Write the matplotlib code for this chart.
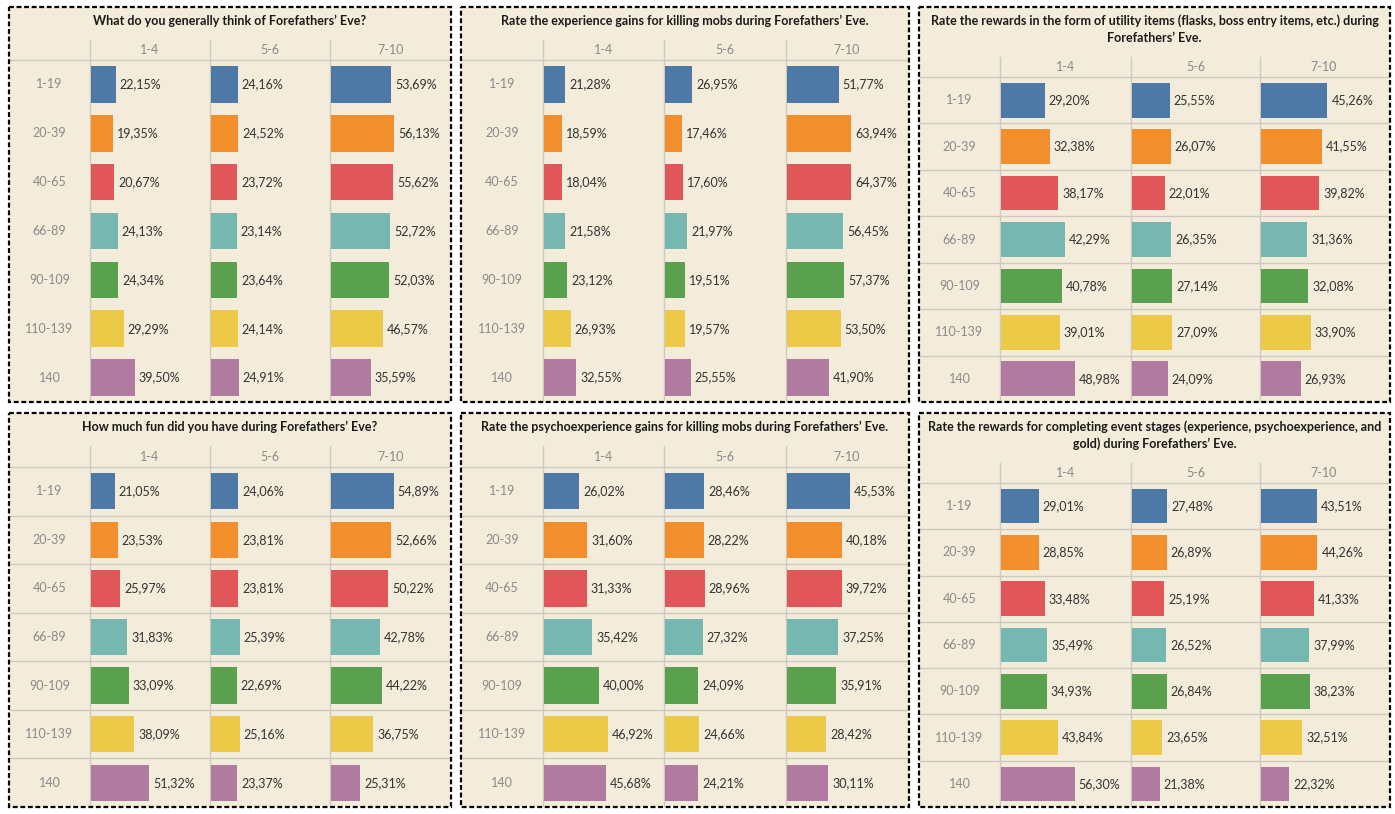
import matplotlib
matplotlib.use("Agg")
import matplotlib.pyplot as plt
from matplotlib.patches import Rectangle

W, H = 1395, 814
plt.rcParams['font.family'] = ['Lato', 'DejaVu Sans']

# ---------------- data ----------------
row_labels = ["1-19", "20-39", "40-65", "66-89", "90-109", "110-139", "140"]
col_labels = ["1-4", "5-6", "7-10"]
colors = ["#4E79A7", "#F28E2B", "#E15759", "#76B7B2", "#59A14F", "#EDC948", "#B07AA1"]

titles = [
    ["What do you generally think of Forefathers\u2019 Eve?"],
    ["Rate the experience gains for killing mobs during Forefathers\u2019 Eve."],
    ["Rate the rewards in the form of utility items (flasks, boss entry items, etc.) during",
     "Forefathers\u2019 Eve."],
    ["How much fun did you have during Forefathers\u2019 Eve?"],
    ["Rate the psychoexperience gains for killing mobs during Forefathers\u2019 Eve."],
    ["Rate the rewards for completing event stages (experience, psychoexperience, and",
     "gold) during Forefathers\u2019 Eve."],
]

p1_14 = [22.15, 19.35, 20.67, 24.13, 24.34, 29.29, 39.50]
p1_56 = [24.16, 24.52, 23.72, 23.14, 23.64, 24.14, 24.91]
p1_710 = [53.69, 56.13, 55.62, 52.72, 52.03, 46.57, 35.59]

p2_14 = [21.28, 18.59, 18.04, 21.58, 23.12, 26.93, 32.55]
p2_56 = [26.95, 17.46, 17.60, 21.97, 19.51, 19.57, 25.55]
p2_710 = [51.77, 63.94, 64.37, 56.45, 57.37, 53.50, 41.90]

p3_14 = [29.20, 32.38, 38.17, 42.29, 40.78, 39.01, 48.98]
p3_56 = [25.55, 26.07, 22.01, 26.35, 27.14, 27.09, 24.09]
p3_710 = [45.26, 41.55, 39.82, 31.36, 32.08, 33.90, 26.93]

p4_14 = [21.05, 23.53, 25.97, 31.83, 33.09, 38.09, 51.32]
p4_56 = [24.06, 23.81, 23.81, 25.39, 22.69, 25.16, 23.37]
p4_710 = [54.89, 52.66, 50.22, 42.78, 44.22, 36.75, 25.31]

p5_14 = [26.02, 31.60, 31.33, 35.42, 40.00, 46.92, 45.68]
p5_56 = [28.46, 28.22, 28.96, 27.32, 24.09, 24.66, 24.21]
p5_710 = [45.53, 40.18, 39.72, 37.25, 35.91, 28.42, 30.11]

p6_14 = [29.01, 28.85, 33.48, 35.49, 34.93, 43.84, 56.30]
p6_56 = [27.48, 26.89, 25.19, 26.52, 26.84, 23.65, 21.38]
p6_710 = [43.51, 44.26, 41.33, 37.99, 38.23, 32.51, 22.32]

values = [
    [p1_14, p1_56, p1_710],
    [p2_14, p2_56, p2_710],
    [p3_14, p3_56, p3_710],
    [p4_14, p4_56, p4_710],
    [p5_14, p5_56, p5_710],
    [p6_14, p6_56, p6_710],
]

# ---------------- layout (pixels) ----------------
layout = [
    dict(box=(9, 7, 451, 402), cols=(90, 210, 330), gr=451, hy=60, vtop=40, hly=50, ty=[21], rl=False, xmax=107),
    dict(box=(461, 7, 909, 402), cols=(543, 664, 786), gr=908, hy=60, vtop=40, hly=50, ty=[21], rl=False, xmax=121),
    dict(box=(919, 7, 1390, 402), cols=(1000, 1131, 1260), gr=1388, hy=77, vtop=57, hly=67, ty=[21, 38], rl=True, xmax=86.5),
    dict(box=(9, 413, 451, 807), cols=(90, 210, 330), gr=451, hy=467, vtop=446, hly=457, ty=[427], rl=True, xmax=105),
    dict(box=(461, 413, 909, 807), cols=(543, 664, 786), gr=908, hy=467, vtop=446, hly=457, ty=[427], rl=True, xmax=88),
    dict(box=(919, 413, 1390, 807), cols=(1000, 1131, 1260), gr=1388, hy=483, vtop=463, hly=473, ty=[427, 444], rl=True, xmax=99.5),
]

BG = "#F4ECDB"
GRID = "#CFCAC0"
LABEL_GREY = "#8A8A8A"
TEXT = "#333333"

fig = plt.figure(figsize=(W / 100, H / 100), dpi=100)
fig.patch.set_facecolor("white")

ov = fig.add_axes([0, 0, 1, 1])
ov.set_xlim(0, W)
ov.set_ylim(H, 0)
ov.axis("off")

for p, lay in enumerate(layout):
    x0, y0, x1, y1 = lay["box"]
    ov.add_patch(Rectangle((x0, y0), x1 - x0, y1 - y0, facecolor=BG, edgecolor="none", zorder=0))
    # title
    cx = (x0 + x1) / 2
    for t, ty in zip(titles[p], lay["ty"]):
        ov.text(cx, ty, t, ha="center", va="center", fontsize=9, fontweight="bold", color="#1a1a1a", zorder=3)
    cols = list(lay["cols"]) + [lay["gr"]]
    # header line
    ov.plot([x0 + 1, x1 - 1], [lay["hy"], lay["hy"]], color=GRID, lw=1, zorder=1)
    # vertical dividers
    for c in lay["cols"]:
        ov.plot([c, c], [lay["vtop"], y1 - 1], color=GRID, lw=1, zorder=1)
    # column headers
    for i, cl in enumerate(col_labels):
        ov.text((cols[i] + cols[i + 1]) / 2, lay["hly"], cl, ha="center", va="center",
                fontsize=9, color=LABEL_GREY, zorder=3)
    rh = (y1 - lay["hy"]) / len(row_labels)
    for r, rlab in enumerate(row_labels):
        yc = lay["hy"] + rh * (r + 0.5)
        ov.text((x0 + lay["cols"][0]) / 2, yc, rlab, ha="center", va="center",
                fontsize=9, color=LABEL_GREY, zorder=3)
        if lay["rl"] and r > 0:
            yy = lay["hy"] + rh * r
            ov.plot([x0 + 1, x1 - 1], [yy, yy], color=GRID, lw=1, zorder=1)
    # bars
    for i in range(3):
        left = cols[i] + 1
        right = cols[i + 1]
        ax = fig.add_axes([left / W, 1 - y1 / H, (right - left) / W, (y1 - lay["hy"]) / H])
        ax.patch.set_alpha(0)
        ax.set_xlim(0, lay["xmax"])
        ax.set_ylim(len(row_labels), 0)
        ax.axis("off")
        ys = [r + 0.5 for r in range(len(row_labels))]
        vals = values[p][i]
        ax.barh(ys, vals, height=0.75, color=colors, left=0)
        pxu = lay["xmax"] / (right - left)
        for yv, v in zip(ys, vals):
            ax.text(v + 4 * pxu, yv, f"{v:.2f}%".replace(".", ","), ha="left", va="center",
                    fontsize=9, color=TEXT)
    # dashed border
    ov.add_patch(Rectangle((x0, y0), x1 - x0, y1 - y0, facecolor="none", edgecolor="black",
                           lw=1.6, linestyle=(0, (2.2, 1.2)), zorder=5))

fig.savefig("out.png", dpi=100, facecolor="white")
